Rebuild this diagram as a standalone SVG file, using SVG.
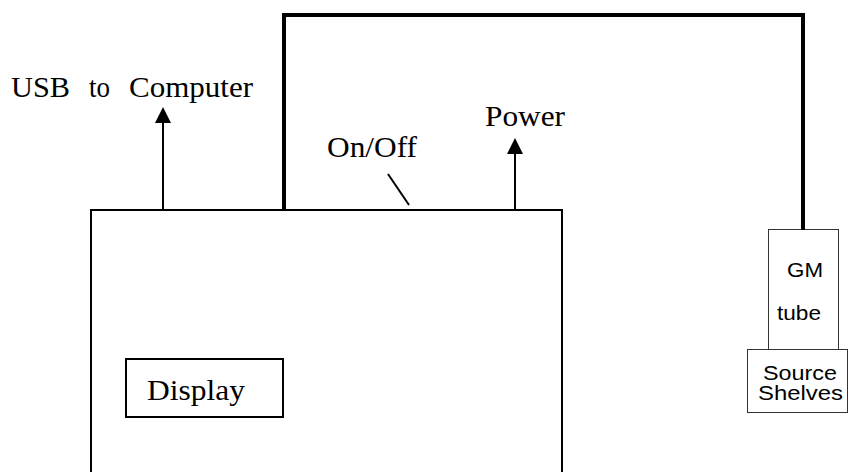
<svg xmlns="http://www.w3.org/2000/svg" width="849" height="472" viewBox="0 0 849 472">
<style>
.serif{font-family:"Liberation Serif","Times New Roman",serif;font-size:30px;fill:#000}
.sans{font-family:"Liberation Sans",Arial,sans-serif;font-size:20px;fill:#000}
.box{fill:#fff;stroke:#000;stroke-width:2}
.thin{fill:#fff;stroke:#333;stroke-width:1}
.line{stroke:#000;stroke-width:2;fill:none}
.wire{stroke:#000;stroke-width:4;fill:none}
</style>
<rect width="849" height="472" fill="#fff"/>
<g id="main-unit">
<path class="box" d="M91,472 V210 H562 V472"/>
</g>
<g id="display">
<rect class="box" x="126" y="359" width="157" height="58"/>
<text class="serif" x="147" y="400" textLength="98" lengthAdjust="spacingAndGlyphs">Display</text>
</g>
<g id="gm-tube">
<rect class="thin" x="768.5" y="229.5" width="70" height="120"/>
<text class="sans" x="787" y="277" textLength="36" lengthAdjust="spacingAndGlyphs">GM</text>
<text class="sans" x="777" y="320" textLength="44" lengthAdjust="spacingAndGlyphs">tube</text>
</g>
<g id="source-shelves">
<rect class="thin" x="747.5" y="349.5" width="100" height="63"/>
<text class="sans" x="763" y="380" textLength="74" lengthAdjust="spacingAndGlyphs">Source</text>
<text class="sans" x="758" y="400" textLength="85" lengthAdjust="spacingAndGlyphs">Shelves</text>
</g>
<g id="labels">
<text class="serif" y="97"><tspan x="11" textLength="59" lengthAdjust="spacingAndGlyphs">USB</tspan> <tspan x="89" textLength="21" lengthAdjust="spacingAndGlyphs">to</tspan> <tspan x="129" textLength="124" lengthAdjust="spacingAndGlyphs">Computer</tspan></text>
<text class="serif" x="327" y="157" textLength="90" lengthAdjust="spacingAndGlyphs">On/Off</text>
<text class="serif" x="485" y="126" textLength="80" lengthAdjust="spacingAndGlyphs">Power</text>
</g>
<g id="connectors">
<line class="line" x1="163" y1="210" x2="163" y2="122"/>
<path d="M155,123 L163,107 L171,123 Z" fill="#000"/>
<line class="line" x1="515" y1="210" x2="515" y2="153"/>
<path d="M507,154 L515,138 L523,154 Z" fill="#000"/>
<line class="line" x1="388" y1="174" x2="409" y2="205"/>
<path class="wire" d="M284,210 V15 H803 V230"/>
</g>
</svg>
